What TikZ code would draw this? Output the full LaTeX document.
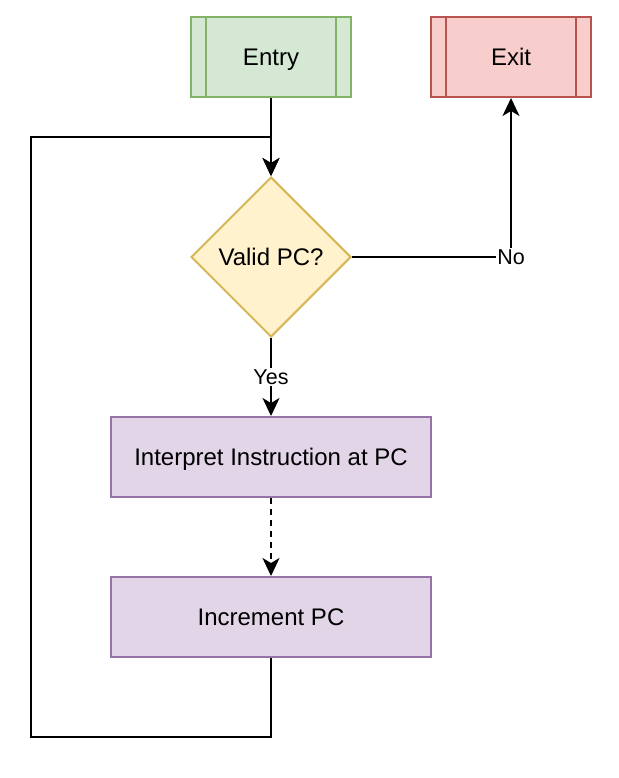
\documentclass[tikz,border=0pt]{standalone}
\usepackage{fontspec}
\setmainfont{Liberation Sans}
\usetikzlibrary{shapes.geometric,arrows.meta}
\definecolor{gfill}{HTML}{D5E8D4}\definecolor{gline}{HTML}{82B366}
\definecolor{rfill}{HTML}{F8CECC}\definecolor{rline}{HTML}{B85450}
\definecolor{yfill}{HTML}{FFF2CC}\definecolor{yline}{HTML}{D6B656}
\definecolor{pfill}{HTML}{E1D5E7}\definecolor{pline}{HTML}{9673A6}
\tikzset{
  nodefont/.style={font=\fontsize{24}{28}\selectfont, text height=17pt, text depth=0pt},
  procbox/.style={rectangle, minimum width=160pt, minimum height=80pt, line width=2pt, inner sep=0pt, nodefont},
  actbox/.style={rectangle, minimum width=320pt, minimum height=80pt, line width=2pt, inner sep=0pt,
    draw=pline, fill=pfill, nodefont},
  decision/.style={diamond, minimum width=160pt, minimum height=160pt, inner sep=0pt, line width=2pt,
    draw=yline, fill=yfill, nodefont},
  conn/.style={line width=2pt, -{Stealth[length=18pt, width=17pt, inset=5pt]}},
  lbl/.style={fill=white, inner sep=1pt, font=\fontsize{21.5}{24}\selectfont, text height=15.5pt, text depth=1pt},
  dashline/.style={dash pattern=on 6pt off 5pt}
}
\begin{document}
\begin{tikzpicture}[x=1pt, y=-1pt]
\useasboundingbox (0,0) rectangle (618,778);
% nodes
\node[procbox, draw=gline, fill=gfill] (entry) at (271,57) {Entry};
\draw[gline, line width=2pt] ([xshift=16pt]entry.north west) -- ([xshift=16pt]entry.south west)
  ([xshift=-16pt]entry.north east) -- ([xshift=-16pt]entry.south east);
\node[procbox, draw=rline, fill=rfill] (exit) at (511,57) {Exit};
\draw[rline, line width=2pt] ([xshift=16pt]exit.north west) -- ([xshift=16pt]exit.south west)
  ([xshift=-16pt]exit.north east) -- ([xshift=-16pt]exit.south east);
\node[decision] (valid) at (271,257) {Valid PC?};
\node[actbox] (interp) at (271,457) {Interpret Instruction at PC};
\node[actbox] (inc) at (271,617) {Increment PC};
% helper coordinates for the loop
\coordinate (lb) at (31,737);
\coordinate (lt) at (31,137);
% connectors
\draw[conn] (entry.south) -- (valid.north);
\draw[conn] (inc.south) |- (lb) -- (lt) -| (valid.north);
\draw[conn] (valid.east) -| node[lbl, pos=0.5] {No} (exit.south);
\draw[conn] (valid.south) -- node[lbl] {Yes} (interp.north);
\draw[conn, dashline] (interp.south) -- (inc.north);
\end{tikzpicture}
\end{document}
